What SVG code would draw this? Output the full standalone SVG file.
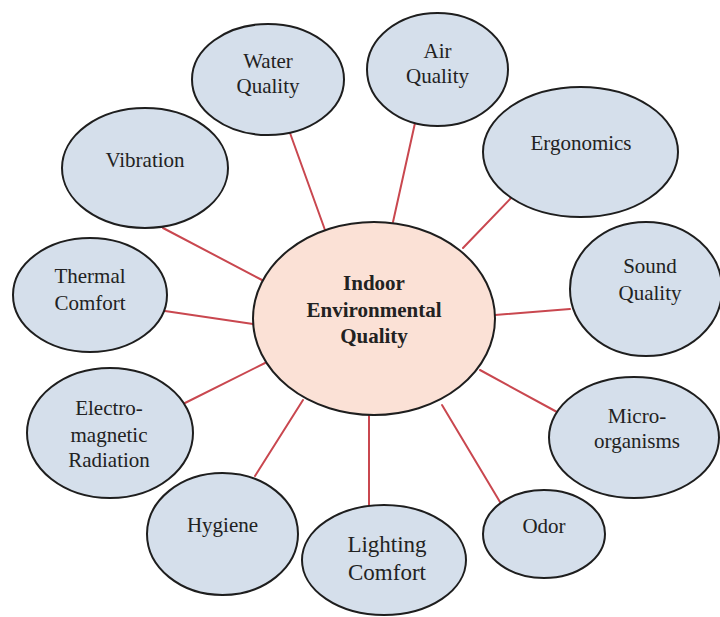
<svg xmlns="http://www.w3.org/2000/svg" width="720" height="617" viewBox="0 0 720 617">
  <style>
    .node ellipse { fill: #d5dfeb; stroke: #1e1e1e; stroke-width: 2; }
    .hub ellipse { fill: #fbe1d6; stroke: #1e1e1e; stroke-width: 2; }
    text { font-family: "Liberation Serif", "Times New Roman", serif; font-size: 21px; fill: #222; text-anchor: middle; }
    .hub text { font-weight: bold; }
    .big { font-size: 23px; }
    #connectors line { stroke: #c9474f; stroke-width: 2; stroke-linecap: round; }
  </style>
  <rect width="720" height="617" fill="#ffffff"/>

  <g id="connectors">
    <line x1="290" y1="133" x2="325" y2="230"/>
    <line x1="415" y1="123" x2="393" y2="222"/>
    <line x1="512" y1="197" x2="463" y2="248"/>
    <line x1="495" y1="315" x2="570" y2="309"/>
    <line x1="480" y1="370" x2="557" y2="412"/>
    <line x1="442" y1="405" x2="500" y2="502"/>
    <line x1="369" y1="415" x2="369" y2="506"/>
    <line x1="303" y1="400" x2="255" y2="476"/>
    <line x1="265" y1="363" x2="185" y2="403"/>
    <line x1="253" y1="324" x2="165" y2="311"/>
    <line x1="262" y1="280" x2="163" y2="228"/>
  </g>

  <g id="water-quality" class="node">
    <ellipse cx="268" cy="79.5" rx="76" ry="55.5"/>
    <text x="268" y="68">Water</text>
    <text x="268" y="93">Quality</text>
  </g>

  <g id="air-quality" class="node">
    <ellipse cx="437.5" cy="69.5" rx="70.5" ry="56.5"/>
    <text x="437.5" y="58">Air</text>
    <text x="437.5" y="83">Quality</text>
  </g>

  <g id="ergonomics" class="node">
    <ellipse cx="580.5" cy="152" rx="97.5" ry="65"/>
    <text x="581" y="150">Ergonomics</text>
  </g>

  <g id="sound-quality" class="node">
    <ellipse cx="646" cy="289" rx="76" ry="67"/>
    <text x="650" y="273">Sound</text>
    <text x="650" y="300">Quality</text>
  </g>

  <g id="micro-organisms" class="node">
    <ellipse cx="634" cy="437.5" rx="85" ry="60.5"/>
    <text x="637" y="423">Micro-</text>
    <text x="637" y="448">organisms</text>
  </g>

  <g id="odor" class="node">
    <ellipse cx="544" cy="534" rx="61" ry="44"/>
    <text x="544" y="533">Odor</text>
  </g>

  <g id="lighting-comfort" class="node">
    <ellipse cx="384" cy="560" rx="82" ry="55"/>
    <text class="big" x="387" y="552">Lighting</text>
    <text class="big" x="387" y="580">Comfort</text>
  </g>

  <g id="hygiene" class="node">
    <ellipse cx="222.5" cy="534" rx="75.5" ry="61"/>
    <text x="222.5" y="532">Hygiene</text>
  </g>

  <g id="electromagnetic-radiation" class="node">
    <ellipse cx="110" cy="433" rx="83" ry="65"/>
    <text x="109" y="415">Electro-</text>
    <text x="109" y="442">magnetic</text>
    <text x="109" y="467">Radiation</text>
  </g>

  <g id="thermal-comfort" class="node">
    <ellipse cx="90" cy="295" rx="77" ry="57"/>
    <text x="90" y="283">Thermal</text>
    <text x="90" y="310">Comfort</text>
  </g>

  <g id="vibration" class="node">
    <ellipse cx="145" cy="168" rx="83" ry="60"/>
    <text x="145" y="167">Vibration</text>
  </g>

  <g id="ieq" class="hub">
    <ellipse cx="374" cy="318.5" rx="121" ry="96.5"/>
    <text x="374" y="290">Indoor</text>
    <text x="374" y="317">Environmental</text>
    <text x="374" y="343">Quality</text>
  </g>
</svg>
